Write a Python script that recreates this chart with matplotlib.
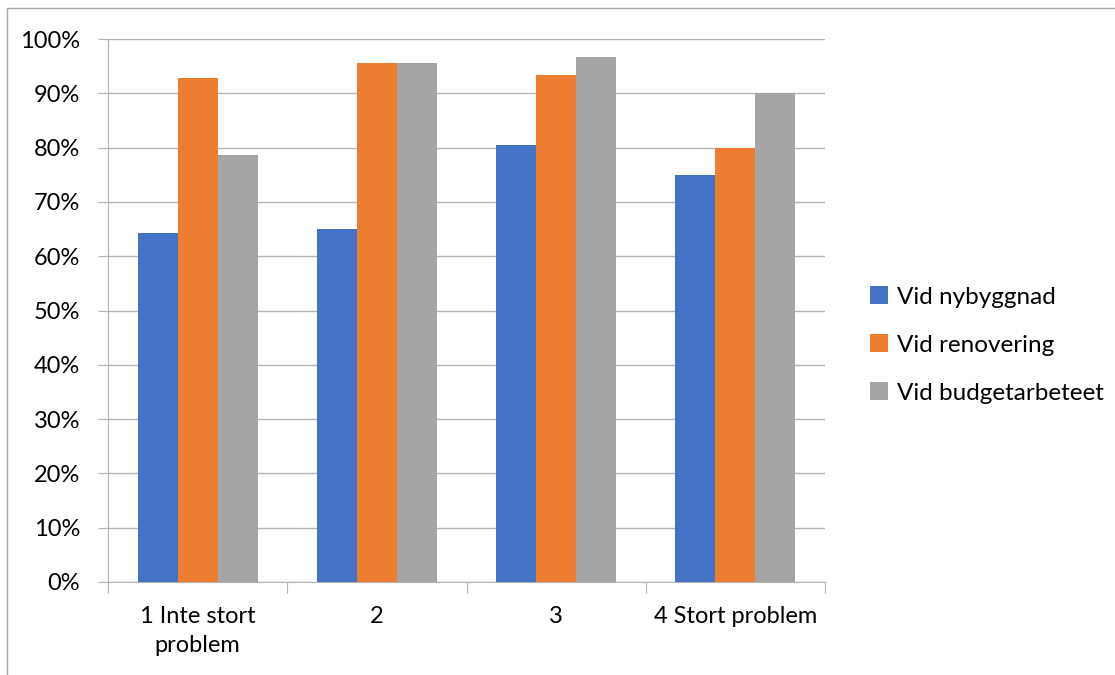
import numpy as np
import matplotlib
matplotlib.use("Agg")
import matplotlib.pyplot as plt
from matplotlib.patches import Rectangle
from matplotlib.ticker import FuncFormatter

categories = ["1 Inte stort\nproblem", "2", "3", "4 Stort problem"]
series_names = ["Vid nybyggnad", "Vid renovering", "Vid budgetarbeteet"]
nybyggnad = [64.3, 65.0, 80.5, 75.0]
renovering = [92.8, 95.6, 93.4, 80.0]
budget = [78.6, 95.6, 96.7, 90.0]
colors = ["#4472C4", "#ED7D31", "#A5A5A5"]

plt.rcParams['font.family'] = ['Lato', 'DejaVu Sans']

fig = plt.figure(figsize=(11.15, 6.75), dpi=100)
W, H = 1115, 675
ax = fig.add_axes([108 / W, 1 - 582 / H, (825 - 108) / W, (582 - 39) / H])

# outer chart frame
fig.patches.append(Rectangle((7 / W, -0.1), 1.2, 1 - 8 / H + 0.1, transform=fig.transFigure,
                             fill=False, edgecolor="#A6A6A6", linewidth=1))

x = np.arange(len(categories))
bw = 0.2235
for i, (vals, name) in enumerate(zip([nybyggnad, renovering, budget], series_names)):
    ax.bar(x + (i - 1) * bw, vals, width=bw, color=colors[i], label=name, zorder=3)

ax.set_xlim(-0.5, 3.5)
ax.set_ylim(0, 100)
ax.set_yticks(np.arange(0, 101, 10))
ax.yaxis.set_major_formatter(FuncFormatter(lambda v, p: f"{int(v)}%"))
ax.grid(axis="y", color="#B4B4B4", linewidth=1, zorder=0)
for s in ["top", "right"]:
    ax.spines[s].set_visible(False)
for s in ["left", "bottom"]:
    ax.spines[s].set_color("#B4B4B4")
ax.tick_params(axis="y", length=7, color="#B4B4B4", labelsize=17, pad=13)
ax.set_xticks(np.arange(-0.5, 3.6, 1))
ax.set_xticklabels([])
ax.tick_params(axis="x", length=8, color="#B4B4B4")
for xi, lab in zip(x, categories):
    ax.text(xi, -4.5, lab, ha="center", va="top", fontsize=17, linespacing=1.45,
            transform=ax.transData)

ax.legend(loc="center left", bbox_to_anchor=(848 / W, 1 - 345 / H), bbox_transform=fig.transFigure,
          frameon=False, fontsize=17.5, handlelength=0.75, handleheight=0.75, handletextpad=0.35,
          labelspacing=1.1)

fig.savefig("out.png", dpi=100)
